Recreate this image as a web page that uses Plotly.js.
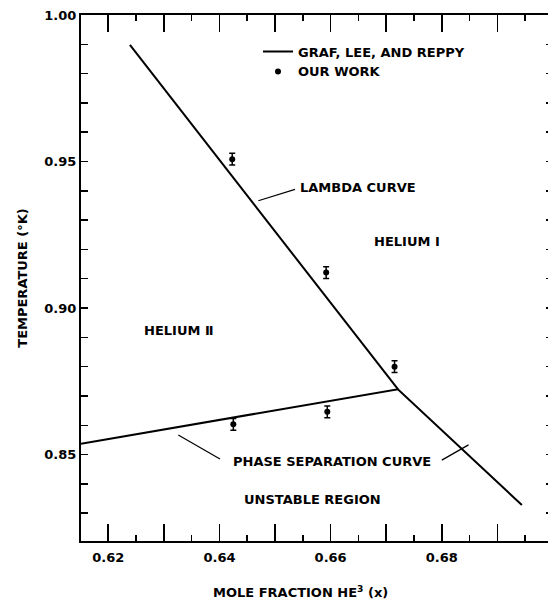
<!DOCTYPE html>
<html>
<head>
<meta charset="utf-8">
<script src="https://cdn.plot.ly/plotly-3.0.1.min.js"></script>
<style>
  html, body { margin: 0; padding: 0; overflow: hidden; background: #fff; }
  #chart { width: 560px; height: 602px; }
</style>
</head>
<body>
<div id="chart"></div>
<script>
// Lambda curve (Graf, Lee, and Reppy)
const lambdaX = [0.6239, 0.6721];
const lambdaY = [0.9898, 0.8723];
// Phase separation curve (Graf, Lee, and Reppy)
const phaseX = [0.6151, 0.6721, 0.6944];
const phaseY = [0.8537, 0.8723, 0.8328];
// Our work: measured points with error bars
const workX = [0.6423, 0.6592, 0.6715, 0.6425, 0.6594];
const workY = [0.9508, 0.9121, 0.8800, 0.8603, 0.8646];
const workErr = [0.002, 0.002, 0.002, 0.002, 0.002];

// Tick values and labels
const xTickVals = [0.62, 0.63, 0.64, 0.65, 0.66, 0.67, 0.68, 0.69];
const xTickText = ['0.62', '', '0.64', '', '0.66', '', '0.68', ''];
const xMinorVals = [0.615, 0.625, 0.635, 0.645, 0.655, 0.665, 0.675, 0.685, 0.695];
const yTickVals = [0.85, 0.90, 0.95, 1.00];
const yTickText = ['0.85', '0.90', '0.95', '1.00'];
const yMinorVals = [0.83, 0.84, 0.86, 0.87, 0.88, 0.89, 0.91, 0.92, 0.93, 0.94, 0.96, 0.97, 0.98, 0.99];

const FONT = 'DejaVu Sans, Liberation Sans, sans-serif';
const TXT = { family: FONT, size: 13, color: '#000', weight: 'bold' };

const traces = [
  {
    x: lambdaX, y: lambdaY, type: 'scatter', mode: 'lines',
    name: 'GRAF, LEE, AND REPPY',
    line: { color: '#000', width: 2 }
  },
  {
    x: phaseX, y: phaseY, type: 'scatter', mode: 'lines',
    name: 'phase separation', showlegend: false,
    line: { color: '#000', width: 2 }
  },
  {
    x: workX, y: workY, type: 'scatter', mode: 'markers',
    name: 'OUR WORK',
    marker: { color: '#000', size: 6, symbol: 'circle' },
    error_y: { type: 'data', array: workErr, visible: true, color: '#000', thickness: 1.5, width: 3 }
  }
];

const layout = {
  width: 560, height: 602,
  margin: { l: 81, r: 7, t: 15, b: 61 },
  paper_bgcolor: '#fff', plot_bgcolor: '#fff',
  font: TXT,
  showlegend: true,
  legend: {
    x: 0.375, y: 0.959, xanchor: 'left', yanchor: 'top',
    bgcolor: 'rgba(0,0,0,0)', borderwidth: 0,
    font: TXT, itemwidth: 30, tracegroupgap: 0
  },
  xaxis: {
    range: [0.6151, 0.700],
    tickmode: 'array', tickvals: xTickVals, ticktext: xTickText,
    ticks: 'inside', ticklen: 17, tickwidth: 1.5, tickcolor: '#000',
    ticklabelstandoff: 3,
    minor: { tickmode: 'array', tickvals: xMinorVals, ticks: 'inside', ticklen: 6, tickwidth: 1.5, tickcolor: '#000', showgrid: false },
    showline: true, linewidth: 2, linecolor: '#000', mirror: 'allticks',
    showgrid: false, zeroline: false,
    tickfont: TXT
  },
  yaxis: {
    range: [0.8205, 1.0],
    tickmode: 'array', tickvals: yTickVals, ticktext: yTickText,
    ticks: 'inside', ticklen: 7, tickwidth: 1.5, tickcolor: '#000',
    minor: { tickmode: 'array', tickvals: yMinorVals, ticks: 'inside', ticklen: 7, tickwidth: 1.5, tickcolor: '#000', showgrid: false },
    showline: true, linewidth: 2, linecolor: '#000', mirror: 'allticks',
    showgrid: false, zeroline: false,
    tickfont: TXT,
    title: { text: 'TEMPERATURE (°K)', font: TXT, standoff: 14 }
  },
  annotations: [
    { xref: 'paper', yref: 'paper', x: 0.4661, y: -0.097, xanchor: 'center', yanchor: 'middle', text: 'MOLE FRACTION HE<sup>3</sup> (x)', showarrow: false, font: TXT },
    { x: 0.6541, y: 0.9413, xanchor: 'left', yanchor: 'middle', text: 'LAMBDA CURVE', showarrow: false, font: TXT },
    { x: 0.6738, y: 0.9226, xanchor: 'center', yanchor: 'middle', text: 'HELIUM Ⅰ', showarrow: false, font: TXT },
    { x: 0.6327, y: 0.8923, xanchor: 'center', yanchor: 'middle', text: 'HELIUM Ⅱ', showarrow: false, font: TXT },
    { x: 0.6602, y: 0.8476, xanchor: 'center', yanchor: 'middle', text: 'PHASE SEPARATION CURVE', showarrow: false, font: TXT },
    { x: 0.6568, y: 0.8345, xanchor: 'center', yanchor: 'middle', text: 'UNSTABLE REGION', showarrow: false, font: TXT }
  ],
  shapes: [
    { type: 'line', xref: 'x', yref: 'y', x0: 0.6470, y0: 0.9366, x1: 0.6536, y1: 0.9405, line: { color: '#000', width: 1.2 } },
    { type: 'line', xref: 'x', yref: 'y', x0: 0.6326, y0: 0.8567, x1: 0.6401, y1: 0.8485, line: { color: '#000', width: 1.2 } },
    { type: 'line', xref: 'x', yref: 'y', x0: 0.6800, y0: 0.8481, x1: 0.6848, y1: 0.8533, line: { color: '#000', width: 1.2 } }
  ]
};

Plotly.newPlot('chart', traces, layout, { staticPlot: true, displayModeBar: false });
</script>
</body>
</html>
